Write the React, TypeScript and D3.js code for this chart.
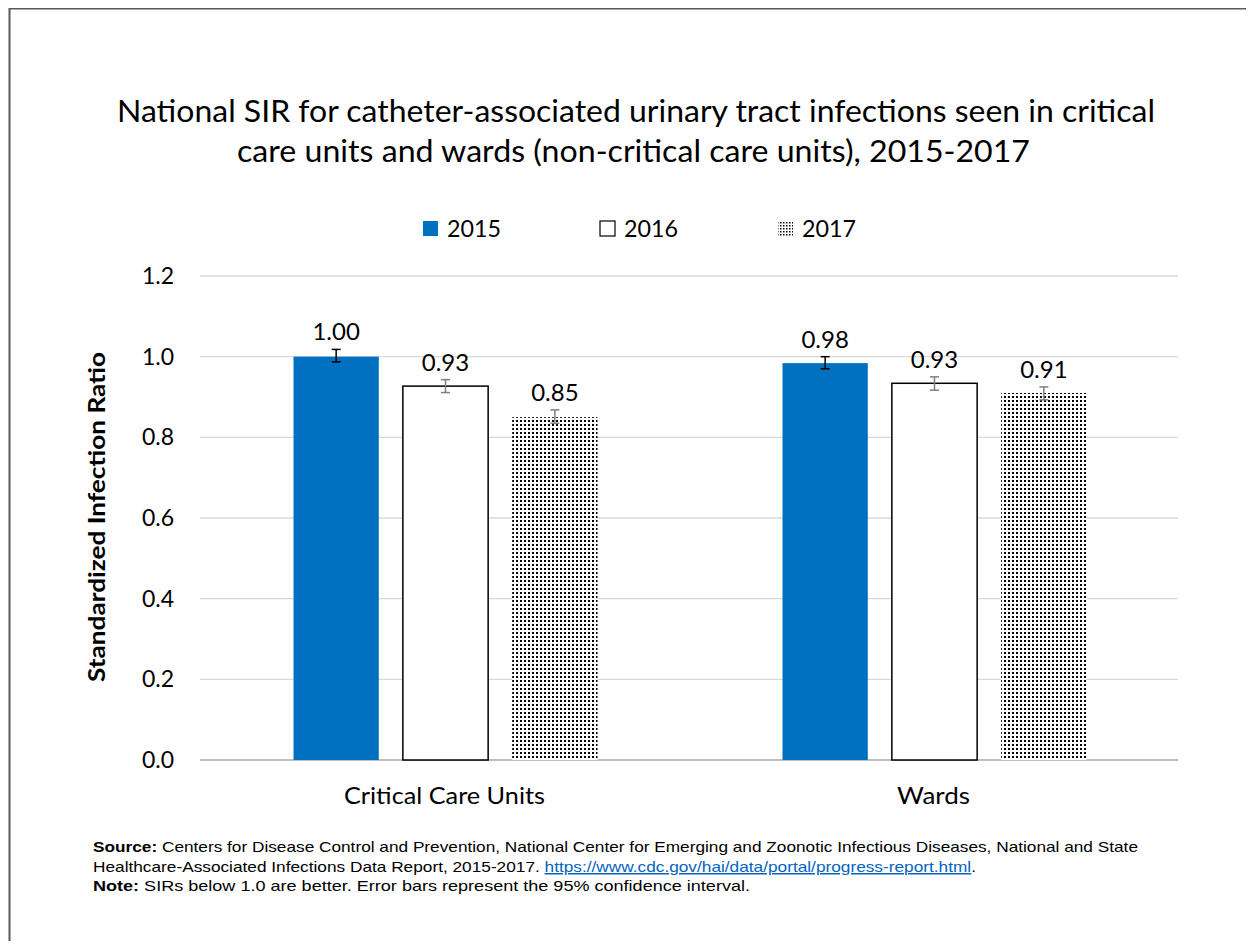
import React, { useEffect } from "react";
import * as d3 from "d3";

const categories = ["Critical Care Units", "Wards"];
const years = ["2015", "2016", "2017"];
const values2015 = [1.0, 0.984];
const values2016 = [0.927, 0.934];
const values2017 = [0.85, 0.91];
const lower2015 = [0.987, 0.97];
const upper2015 = [1.018, 1.0];
const lower2016 = [0.911, 0.917];
const upper2016 = [0.943, 0.95];
const lower2017 = [0.835, 0.893];
const upper2017 = [0.868, 0.925];
const labels2015 = ["1.00", "0.98"];
const labels2016 = ["0.93", "0.93"];
const labels2017 = ["0.85", "0.91"];
const yTicks = [0, 0.2, 0.4, 0.6, 0.8, 1.0, 1.2];

const W = 1254;
const H = 945;
const FONT = "Lato, 'Open Sans', sans-serif";

export default function App() {
  useEffect(() => {
    document.body.style.overflow = "hidden";
    document.documentElement.style.overflow = "hidden";
  }, []);

  const y = d3.scaleLinear().domain([0, 1.2]).range([760, 276]);
  const x0 = d3.scaleBand<string>().domain(categories).range([200, 1178]).paddingInner(0).paddingOuter(0);
  const x1 = d3.scaleBand<string>().domain(years).range([0, 304]).paddingInner(0.22);
  const groupOffset = (x0.bandwidth() - 304) / 2 + 1;

  const series = [
    { year: "2015", vals: values2015, lo: lower2015, hi: upper2015, labels: labels2015, fill: "#0070c0", stroke: "none", err: "#000" },
    { year: "2016", vals: values2016, lo: lower2016, hi: upper2016, labels: labels2016, fill: "#fff", stroke: "#000", err: "#7f7f7f" },
    { year: "2017", vals: values2017, lo: lower2017, hi: upper2017, labels: labels2017, fill: "url(#dots)", stroke: "none", err: "#7f7f7f" },
  ];

  const legendX = [423, 600, 778];
  const catLen = [201, 73];

  return (
    <svg width={W - 8} height={H - 12} style={{ display: "block" }} viewBox={`8 8 ${W - 8} ${H - 12}`}>
      <defs>
        <pattern id="dots" width="4" height="4" patternUnits="userSpaceOnUse">
          <rect width="4" height="4" fill="#fff" />
          <rect x="0" y="0" width="2" height="2" fill="#000" />
        </pattern>
        <pattern id="dotsLegend" width="3" height="3" patternUnits="userSpaceOnUse">
          <rect width="3" height="3" fill="#fff" />
          <rect x="0" y="0" width="1.5" height="1.5" fill="#000" />
        </pattern>
      </defs>
      <rect x={8} y={8} width={W} height={H} fill="#fff" />
      <path d={`M9.5,${H + 10} V8.5 H${W + 10}`} fill="none" stroke="#595959" strokeWidth={2} />

      <text x={117} y={122} textLength={1038} lengthAdjust="spacingAndGlyphs" fontFamily={FONT} fontSize={30} fill="#000">
        National SIR for catheter-associated urinary tract infections seen in critical
      </text>
      <text x={237} y={162} textLength={793} lengthAdjust="spacingAndGlyphs" fontFamily={FONT} fontSize={30} fill="#000">
        care units and wards (non-critical care units), 2015-2017
      </text>

      {series.map((s, i) => (
        <g key={s.year}>
          <rect x={legendX[i]} y={221} width={15} height={15} fill={i === 2 ? "url(#dotsLegend)" : s.fill} stroke={i === 1 ? "#000" : "none"} strokeWidth={1.2} />
          <text x={legendX[i] + 24} y={237} textLength={54} lengthAdjust="spacingAndGlyphs" fontFamily={FONT} fontSize={23} fill="#000">{s.year}</text>
        </g>
      ))}

      {yTicks.map((t) => (
        <g key={t}>
          <line x1={200} x2={1178} y1={y(t)} y2={y(t)} stroke={t === 0 ? "#bfbfbf" : "#d9d9d9"} strokeWidth={t === 0 ? 2 : 1.3} />
          <text x={174} y={y(t) + 8} textAnchor="end" fontFamily={FONT} fontSize={23} fill="#000">{t.toFixed(1)}</text>
        </g>
      ))}

      <text transform={`translate(105,517) rotate(-90)`} x={-165} y={0} textLength={330} lengthAdjust="spacingAndGlyphs" fontFamily={FONT} fontWeight="bold" fontSize={23} fill="#000">
        Standardized Infection Ratio
      </text>

      {categories.map((c, ci) => {
        const gx = (x0(c) as number) + groupOffset;
        const mid = (x0(c) as number) + x0.bandwidth() / 2;
        return (
          <g key={c}>
            {series.map((s) => {
              const bx = gx + (x1(s.year) as number);
              const bw = x1.bandwidth();
              const top = y(s.vals[ci]);
              const cx = bx + bw / 2;
              return (
                <g key={s.year}>
                  <rect x={bx} y={top} width={bw} height={y(0) - top} fill={s.fill} stroke={s.stroke} strokeWidth={1.5} />
                  <line x1={cx} x2={cx} y1={y(s.hi[ci])} y2={y(s.lo[ci])} stroke={s.err} strokeWidth={1.5} />
                  <line x1={cx - 4.5} x2={cx + 4.5} y1={y(s.hi[ci])} y2={y(s.hi[ci])} stroke={s.err} strokeWidth={1.5} />
                  <line x1={cx - 4.5} x2={cx + 4.5} y1={y(s.lo[ci])} y2={y(s.lo[ci])} stroke={s.err} strokeWidth={1.5} />
                  <text x={cx} y={y(s.hi[ci]) - 9} textAnchor="middle" fontFamily={FONT} fontSize={24} fill="#000">{s.labels[ci]}</text>
                </g>
              );
            })}
            <text x={mid - catLen[ci] / 2} y={804} textLength={catLen[ci]} lengthAdjust="spacingAndGlyphs" fontFamily={FONT} fontSize={24} fill="#000">{c}</text>
          </g>
        );
      })}

      <g fontFamily="'Liberation Sans', Arial, sans-serif" fontSize={15} fill="#000">
        <text x={93} y={852} textLength={1045} lengthAdjust="spacingAndGlyphs">
          <tspan fontWeight="bold">Source:</tspan> Centers for Disease Control and Prevention, National Center for Emerging and Zoonotic Infectious Diseases, National and State
        </text>
        <text x={93} y={872} textLength={883} lengthAdjust="spacingAndGlyphs">
          Healthcare-Associated Infections Data Report, 2015-2017. <tspan fill="#0563c1" textDecoration="underline">https://www.cdc.gov/hai/data/portal/progress-report.html</tspan>.
        </text>
        <text x={93} y={891} textLength={657} lengthAdjust="spacingAndGlyphs">
          <tspan fontWeight="bold">Note:</tspan> SIRs below 1.0 are better. Error bars represent the 95% confidence interval.
        </text>
      </g>
    </svg>
  );
}
